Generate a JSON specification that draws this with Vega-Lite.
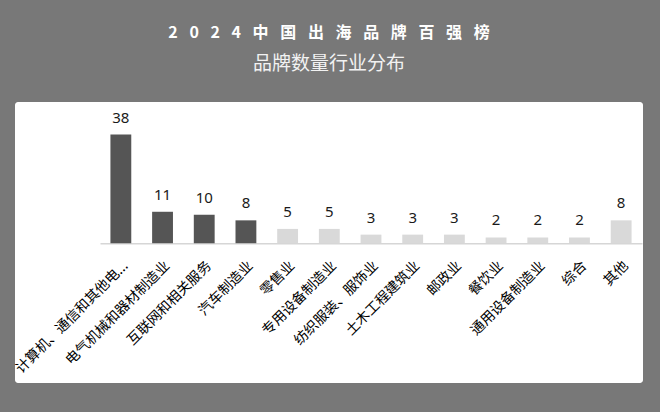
{
  "$schema": "https://vega.github.io/schema/vega-lite/v6.json",
  "width": 628,
  "height": 281,
  "autosize": {"type": "none"},
  "padding": {"left": 15, "top": 102, "right": 17, "bottom": 29},
  "background": "#787878",
  "config": {
    "view": {"fill": "#ffffff", "stroke": null, "cornerRadius": 3},
    "font": "Noto Sans CJK SC"
  },
  "title": {
    "text": "2\u2002 0\u2002 2\u2002 4\u2002 中\u2002 国\u2002 出\u2002 海\u2002 品\u2002 牌\u2002 百\u2002 强\u2002 榜",
    "subtitle": "品牌数量行业分布",
    "color": "#ffffff",
    "subtitleColor": "#f2f2f2",
    "font": "Noto Sans CJK SC",
    "subtitleFont": "Noto Sans CJK SC",
    "fontSize": 16,
    "fontWeight": "bold",
    "subtitleFontSize": 19,
    "subtitleFontWeight": "normal",
    "anchor": "middle",
    "offset": 28,
    "subtitlePadding": 14
  },
  "data": {
    "values": [
      {"industry": "计算机、通信和其他电...", "count": 38, "tier": "前四"},
      {"industry": "电气机械和器材制造业", "count": 11, "tier": "前四"},
      {"industry": "互联网和相关服务", "count": 10, "tier": "前四"},
      {"industry": "汽车制造业", "count": 8, "tier": "前四"},
      {"industry": "零售业", "count": 5, "tier": "其余"},
      {"industry": "专用设备制造业", "count": 5, "tier": "其余"},
      {"industry": "纺织服装、服饰业", "count": 3, "tier": "其余"},
      {"industry": "土木工程建筑业", "count": 3, "tier": "其余"},
      {"industry": "邮政业", "count": 3, "tier": "其余"},
      {"industry": "餐饮业", "count": 2, "tier": "其余"},
      {"industry": "通用设备制造业", "count": 2, "tier": "其余"},
      {"industry": "综合", "count": 2, "tier": "其余"},
      {"industry": "其他", "count": 8, "tier": "其余"}
    ]
  },
  "encoding": {
    "x": {
      "field": "industry",
      "type": "nominal",
      "sort": null,
      "scale": {"range": [85, 627], "paddingInner": 0.5, "paddingOuter": 0.25},
      "axis": {
        "orient": "bottom",
        "offset": -139.7,
        "title": null,
        "ticks": false,
        "labelAngle": -45,
        "labelAlign": "right",
        "labelBaseline": "middle",
        "labelPadding": 20,
        "labelOffset": 5,
        "labelFontSize": 14,
        "labelColor": "#000000",
        "labelFont": "Noto Sans CJK SC",
        "labelLimit": 300,
        "domainColor": "#d6d6d6",
        "domainWidth": 1.5
      }
    },
    "y": {
      "field": "count",
      "type": "quantitative",
      "scale": {"domain": [-48.9, 49.4], "nice": false, "zero": false},
      "axis": null
    }
  },
  "layer": [
    {
      "mark": {"type": "bar"},
      "encoding": {
        "color": {
          "field": "tier",
          "type": "nominal",
          "scale": {"domain": ["前四", "其余"], "range": ["#555555", "#d9d9d9"]},
          "legend": null
        }
      }
    },
    {
      "mark": {"type": "text", "baseline": "middle", "dy": -17, "fontSize": 15, "font": "Noto Sans", "color": "#1a1a1a"},
      "encoding": {"text": {"field": "count", "type": "quantitative"}}
    }
  ]
}
